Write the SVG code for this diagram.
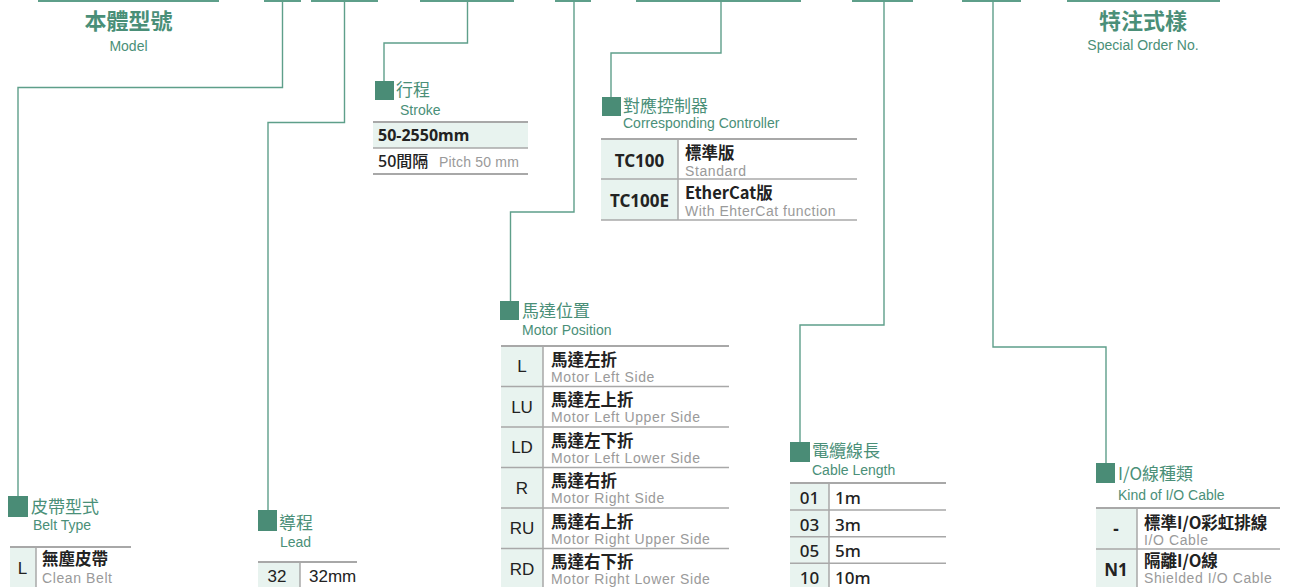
<svg xmlns="http://www.w3.org/2000/svg" width="1291" height="587" viewBox="0 0 1291 587">
<style>
.bar{stroke:#5e9f8a;stroke-width:2;fill:none}
.con{stroke:#5e9f8a;stroke-width:1.4;fill:none}
.sq{fill:#4a8c76}
.ttl{font-family:"Noto Sans CJK TC","Noto Sans",sans-serif;font-size:17px;fill:#4a8f78}
.sub{font-family:"Liberation Sans",Arial,sans-serif;font-size:14px;fill:#4a8f78}
.big{font-family:"Noto Sans CJK TC","Noto Sans",sans-serif;font-size:22px;font-weight:bold;fill:#4a8f78;text-anchor:middle}
.tl{stroke:#a8a8a8;stroke-width:1.5;fill:none}
.tlt{stroke:#a8a8a8;stroke-width:2;fill:none}
.fill{fill:#e8f3ef}
.cn{font-family:"Noto Sans CJK TC","Noto Sans",sans-serif;font-size:16.5px;font-weight:bold;fill:#222}
.en{font-family:"Liberation Sans",Arial,sans-serif;font-size:14px;letter-spacing:0.6px;fill:#9a9a9a}
.code{font-family:"Liberation Sans",Arial,sans-serif;font-size:17px;fill:#222;text-anchor:middle}
.codeb{font-family:"Noto Sans","Noto Sans CJK TC",sans-serif;font-size:17px;font-weight:bold;fill:#222;text-anchor:middle}
.val{font-family:"Noto Sans","Noto Sans CJK TC",sans-serif;font-size:17px;font-weight:500;fill:#222}
</style>

<g id="connectors">
<path class="bar" d="M38,1H219M264,1H301M311,1H378M420,1H514M555,1H591M636,1H801M852,1H913M962,1H1021M1067,1H1220"/>
<path class="con" d="M282.5,1V87.5H18V496"/>
<path class="con" d="M344.5,1V122.5H268V510"/>
<path class="con" d="M467.5,1V43H384V81"/>
<path class="con" d="M574,1V212H510.5V301"/>
<path class="con" d="M721,1V53H611V97"/>
<path class="con" d="M884,1V325H800V442"/>
<path class="con" d="M993,1V347H1106V463"/>
</g>

<g id="model">
<text class="big" x="128.5" y="29">本體型號</text>
<text class="sub" x="128.5" y="51" text-anchor="middle">Model</text>
</g>

<g id="special">
<text class="big" x="1143" y="29">特注式樣</text>
<text class="sub" x="1143" y="50" text-anchor="middle">Special Order No.</text>
</g>

<g id="stroke">
<rect class="sq" x="375" y="81" width="19" height="19"/>
<text class="ttl" x="396" y="96">行程</text>
<text class="sub" x="400" y="115">Stroke</text>
<rect class="fill" x="373" y="122" width="155" height="26"/>
<line class="tlt" x1="373" y1="122" x2="528" y2="122"/>
<line class="tl" x1="373" y1="148" x2="528" y2="148"/>
<line class="tlt" x1="373" y1="174" x2="528" y2="174"/>
<text class="val" x="378" y="141" style="font-weight:bold;font-size:16px">50-2550mm</text>
<text class="val" x="378" y="167" style="font-size:16px">50間隔</text>
<text class="en" x="439" y="167" style="letter-spacing:0.2px">Pitch 50 mm</text>
</g>

<g id="controller">
<rect class="sq" x="602" y="97" width="19" height="19"/>
<text class="ttl" x="623" y="112">對應控制器</text>
<text class="sub" x="623" y="128">Corresponding Controller</text>
<rect class="fill" x="601" y="139" width="77" height="81"/>
<line class="tlt" x1="601" y1="139" x2="857" y2="139"/>
<line class="tl" x1="601" y1="179" x2="857" y2="179"/>
<line class="tl" x1="601" y1="220" x2="857" y2="220"/>
<line class="tl" x1="678" y1="139" x2="678" y2="220"/>
<text class="codeb" x="639.5" y="167">TC100</text>
<text class="codeb" x="639.5" y="207">TC100E</text>
<text class="cn" x="685" y="159">標準版</text>
<text class="en" x="685" y="175.5">Standard</text>
<text class="cn" x="685" y="199">EtherCat版</text>
<text class="en" x="685" y="215.5" style="letter-spacing:0.5px">With EhterCat function</text>
</g>

<g id="motor">
<rect class="sq" x="500" y="301" width="19" height="19"/>
<text class="ttl" x="522" y="317">馬達位置</text>
<text class="sub" x="522" y="335">Motor Position</text>
<rect class="fill" x="501" y="346" width="42" height="241"/>
<line class="tlt" x1="501" y1="346" x2="729" y2="346"/>
<path class="tl" d="M501,386.5H729M501,427H729M501,467.5H729M501,508H729M501,548.5H729M543,346V587"/>
<text class="code" x="522" y="372">L</text>
<text class="cn" x="551" y="365.5">馬達左折</text>
<text class="en" x="551" y="381.5">Motor Left Side</text>
<text class="code" x="522" y="412.5">LU</text>
<text class="cn" x="551" y="406">馬達左上折</text>
<text class="en" x="551" y="422">Motor Left Upper Side</text>
<text class="code" x="522" y="453">LD</text>
<text class="cn" x="551" y="446.5">馬達左下折</text>
<text class="en" x="551" y="462.5">Motor Left Lower Side</text>
<text class="code" x="522" y="493.5">R</text>
<text class="cn" x="551" y="487">馬達右折</text>
<text class="en" x="551" y="503">Motor Right Side</text>
<text class="code" x="522" y="534">RU</text>
<text class="cn" x="551" y="527.5">馬達右上折</text>
<text class="en" x="551" y="543.5">Motor Right Upper Side</text>
<text class="code" x="522" y="574.5">RD</text>
<text class="cn" x="551" y="568">馬達右下折</text>
<text class="en" x="551" y="584">Motor Right Lower Side</text>
</g>

<g id="belt">
<rect class="sq" x="8" y="496" width="20" height="21"/>
<text class="ttl" x="31" y="513">皮帶型式</text>
<text class="sub" x="33" y="530">Belt Type</text>
<rect class="fill" x="10" y="547" width="26" height="40"/>
<line class="tlt" x1="10" y1="547" x2="131" y2="547"/>
<line class="tl" x1="36" y1="547" x2="36" y2="587"/>
<text class="code" x="22.5" y="574">L</text>
<text class="cn" x="42" y="565">無塵皮帶</text>
<text class="en" x="42" y="583">Clean Belt</text>
</g>

<g id="lead">
<rect class="sq" x="258" y="510" width="19" height="21"/>
<text class="ttl" x="279" y="529">導程</text>
<text class="sub" x="280" y="547">Lead</text>
<rect class="fill" x="258" y="562" width="42" height="25"/>
<line class="tlt" x1="258" y1="562" x2="357" y2="562"/>
<line class="tl" x1="300" y1="562" x2="300" y2="587"/>
<text class="code" x="277" y="581.5">32</text>
<text class="code" x="309" y="581.5" style="text-anchor:start">32mm</text>
</g>

<g id="cable">
<rect class="sq" x="790" y="442" width="20" height="20"/>
<text class="ttl" x="812" y="457">電纜線長</text>
<text class="sub" x="812" y="475">Cable Length</text>
<rect class="fill" x="790" y="483" width="39" height="104"/>
<line class="tlt" x1="790" y1="483" x2="946" y2="483"/>
<path class="tl" d="M790,510H946M790,536.7H946M790,563.3H946M829,483V587"/>
<text class="val" x="809.5" y="504" text-anchor="middle">01</text>
<text class="val" x="835" y="504">1m</text>
<text class="val" x="809.5" y="530.7" text-anchor="middle">03</text>
<text class="val" x="835" y="530.7">3m</text>
<text class="val" x="809.5" y="557.3" text-anchor="middle">05</text>
<text class="val" x="835" y="557.3">5m</text>
<text class="val" x="809.5" y="584" text-anchor="middle">10</text>
<text class="val" x="835" y="584">10m</text>
</g>

<g id="iocable">
<rect class="sq" x="1096" y="463" width="19" height="20"/>
<text class="ttl" x="1118" y="480">I/O線種類</text>
<text class="sub" x="1118" y="500">Kind of I/O Cable</text>
<rect class="fill" x="1096" y="508" width="41" height="79"/>
<line class="tlt" x1="1096" y1="508" x2="1280" y2="508"/>
<path class="tl" d="M1096,549H1280M1137,508V587"/>
<text class="codeb" x="1116" y="535">-</text>
<text class="cn" x="1144" y="529">標準I/O彩虹排線</text>
<text class="en" x="1144" y="545">I/O Cable</text>
<text class="codeb" x="1116" y="576">N1</text>
<text class="cn" x="1144" y="567">隔離I/O線</text>
<text class="en" x="1144" y="583">Shielded I/O Cable</text>
</g>
</svg>
